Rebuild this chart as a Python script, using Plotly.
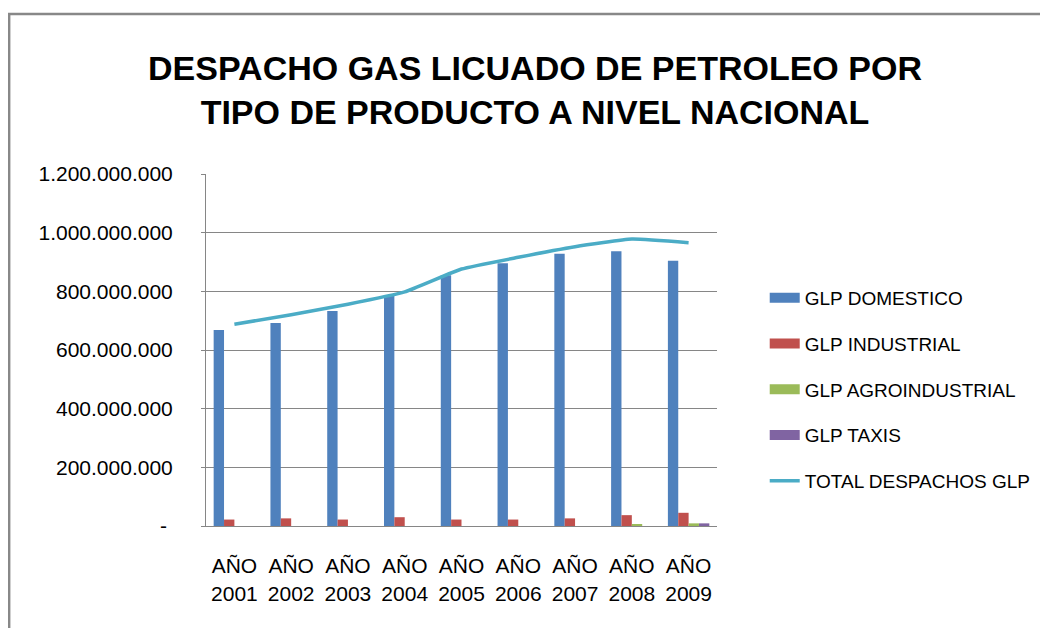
import plotly.graph_objects as go

categories = ["AÑO<br>2001", "AÑO<br>2002", "AÑO<br>2003", "AÑO<br>2004", "AÑO<br>2005",
              "AÑO<br>2006", "AÑO<br>2007", "AÑO<br>2008", "AÑO<br>2009"]
glp_domestico = [668e6, 692e6, 733e6, 786e6, 855e6, 896e6, 928e6, 937e6, 904e6]
glp_industrial = [22e6, 26e6, 22e6, 30e6, 22e6, 22e6, 26e6, 37e6, 45e6]
glp_agroindustrial = [0, 0, 0, 0, 0, 0, 0, 6e6, 9e6]
glp_taxis = [0, 0, 0, 0, 0, 0, 0, 0, 9e6]
total_despachos = [688e6, 720e6, 756e6, 798e6, 876e6, 916e6, 952e6, 978e6, 966e6]

y_tickvals = [0, 200e6, 400e6, 600e6, 800e6, 1000e6, 1200e6]
y_ticktext = ["-\u00a0", "200.000.000", "400.000.000", "600.000.000",
              "800.000.000", "1.000.000.000", "1.200.000.000"]

bar_series = [
    ("GLP DOMESTICO", glp_domestico, "#4F81BD"),
    ("GLP INDUSTRIAL", glp_industrial, "#C0504D"),
    ("GLP AGROINDUSTRIAL", glp_agroindustrial, "#9BBB59"),
    ("GLP TAXIS", glp_taxis, "#8064A2"),
]
line_color = "#4BACC6"
grid = "#868686"
font_main = "Liberation Sans"

fig = go.Figure()
for name, vals, col in bar_series:
    fig.add_trace(go.Bar(x=categories, y=vals, name=name, marker=dict(color=col, line=dict(width=0)),
                         showlegend=False, legendgroup=name))
fig.add_trace(go.Scatter(x=categories, y=total_despachos, mode="lines", name="TOTAL DESPACHOS GLP",
                         line=dict(color=line_color, width=3.5, shape="spline", smoothing=0.4),
                         showlegend=False, legendgroup="total"))
# legend entries (swatches)
for name, vals, col in bar_series:
    fig.add_trace(go.Scatter(x=[None], y=[None], mode="lines", name=name, legendgroup=name,
                             line=dict(color=col, width=11)))
fig.add_trace(go.Scatter(x=[None], y=[None], mode="lines", name="TOTAL DESPACHOS GLP",
                         legendgroup="total", line=dict(color=line_color, width=3.5)))

OFF = 8  # page body margin
SW, SH = 1048, 628  # screen size
W, H = SW - OFF, SH - OFF
# plot area in screen pixels
L, R, T, B = 206, 720, 174, 526
pw, ph = R - L, B - T

def px(x):
    return (x - L) / pw

def py(y):
    return (B - y) / ph

fig.update_layout(
    width=W, height=H,
    margin=dict(l=L - OFF, r=SW - R, t=T - OFF, b=SH - B),
    paper_bgcolor="white", plot_bgcolor="white",
    barmode="group", bargap=0.27, bargroupgap=0,
    font=dict(family=font_main, color="#000000", size=21),
    title=dict(text="<b>DESPACHO GAS LICUADO DE PETROLEO POR<br>TIPO DE PRODUCTO A NIVEL NACIONAL</b>",
               x=(535 - OFF) / W, xanchor="center", y=1 - (80 - OFF) / H, yanchor="middle",
               font=dict(family=font_main, size=34, color="#000000")),
    legend=dict(x=px(768), xanchor="left", y=py(279), yanchor="top",
                font=dict(family=font_main, size=19, color="#000000"),
                tracegroupgap=18, bgcolor="rgba(0,0,0,0)", traceorder="grouped"),
    xaxis=dict(showgrid=False, showline=True, linecolor=grid, linewidth=1,
               ticks="", tickfont=dict(size=21), ticklabelstandoff=21, fixedrange=True),
    yaxis=dict(range=[0, 1.2e9], tickvals=y_tickvals, ticktext=y_ticktext,
               showgrid=True, gridcolor=grid, gridwidth=1, showline=True, linecolor=grid,
               linewidth=1, ticks="outside", ticklen=4, tickcolor=grid,
               ticklabelstandoff=24, tickfont=dict(size=21), zeroline=False),
    shapes=[dict(type="path", xref="paper", yref="paper",
                 path=f"M {px(8)},{py(SH + 5)} L {px(8)},{py(14)} L {px(SW + 5)},{py(14)}",
                 line=dict(color="#888888", width=2.5))],
)

fig.write_html("out.html")
